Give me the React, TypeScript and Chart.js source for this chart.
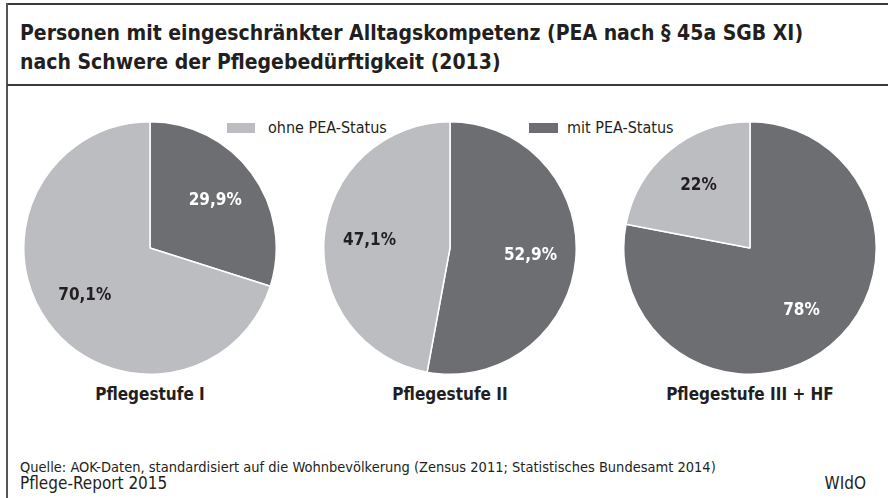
import React, { useEffect, useRef } from "react";
import { Chart, registerables } from "chart.js";

Chart.register(...registerables);

const seriesNames = ["mit PEA-Status", "ohne PEA-Status"];
const categories = ["Pflegestufe I", "Pflegestufe II", "Pflegestufe III + HF"];
const mitPEA = [29.9, 52.9, 78];
const ohnePEA = [70.1, 47.1, 22];
const valueLabels = [
  ["29,9%", "70,1%"],
  ["52,9%", "47,1%"],
  ["78%", "22%"],
];

const DARK = "#6d6e71";
const LIGHT = "#bcbdc0";
const TEXT = "#231f20";
const FONT = "'Liberation Sans Narrow', 'DejaVu Sans Condensed', 'Roboto', sans-serif";

const labelPlugin = {
  id: "sliceLabels",
  afterDatasetsDraw(chart: any, _args: any, opts: any) {
    const ctx = chart.ctx;
    const meta = chart.getDatasetMeta(0);
    meta.data.forEach((arc: any, i: number) => {
      const p = arc.getProps(["x", "y", "startAngle", "endAngle", "outerRadius"], true);
      const mid = (p.startAngle + p.endAngle) / 2;
      const r = p.outerRadius * opts.frac;
      const x = p.x + Math.cos(mid) * r;
      const y = p.y + Math.sin(mid) * r;
      ctx.save();
      ctx.font = `bold 17px ${FONT}`;
      ctx.fillStyle = i === 0 ? "#ffffff" : TEXT;
      ctx.textAlign = "center";
      ctx.textBaseline = "middle";
      ctx.fillText(opts.labels[i], x, y);
      ctx.restore();
    });
  },
};

function PieChart({ idx }: { idx: number }) {
  const ref = useRef<HTMLCanvasElement>(null);
  useEffect(() => {
    const chart = new Chart(ref.current!, {
      type: "pie",
      data: {
        labels: seriesNames,
        datasets: [
          {
            data: [mitPEA[idx], ohnePEA[idx]],
            backgroundColor: [DARK, LIGHT],
            borderColor: "#ffffff",
            borderWidth: 1.5,
          },
        ],
      },
      options: {
        animation: false,
        responsive: false,
        maintainAspectRatio: false,
        layout: { padding: 0 },
        plugins: {
          legend: { display: false },
          tooltip: { enabled: false },
          sliceLabels: { labels: valueLabels[idx], frac: 0.64 },
        } as any,
      },
      plugins: [labelPlugin],
    });
    return () => chart.destroy();
  }, [idx]);
  return <canvas ref={ref} width={254} height={254} style={{ width: 254, height: 254, display: "block" }} />;
}

export default function App() {
  const centers = [150, 450, 750];
  return (
    <div
      style={{
        position: "absolute",
        left: 0,
        top: 0,
        width: 888,
        height: 498,
        background: "#fff",
        overflow: "hidden",
        fontFamily: FONT,
        color: TEXT,
      }}
    >
      {/* borders */}
      <div style={{ position: "absolute", left: 7, top: 3, width: 881, height: 2, background: "#3a3a3a" }} />
      <div style={{ position: "absolute", left: 6, top: 3, width: 2, height: 495, background: "#555" }} />
      <div style={{ position: "absolute", left: 7, top: 84, width: 881, height: 2, background: "#3a3a3a" }} />

      {/* title */}
      <div
        style={{
          position: "absolute",
          left: 20,
          top: 19,
          fontWeight: "bold",
          fontSize: 21,
          lineHeight: "29px",
          whiteSpace: "nowrap",
        }}
      >
        Personen mit eingeschränkter Alltagskompetenz (PEA nach § 45a SGB XI)
        <br />
        nach Schwere der Pflegebedürftigkeit (2013)
      </div>

      {/* legend */}
      <div style={{ position: "absolute", left: 227, top: 123, width: 28, height: 10, background: LIGHT }} />
      <div style={{ position: "absolute", left: 268, top: 118, fontSize: 16, lineHeight: "20px", whiteSpace: "nowrap" }}>
        {seriesNames[1]}
      </div>
      <div style={{ position: "absolute", left: 529, top: 123, width: 29, height: 10, background: DARK }} />
      <div style={{ position: "absolute", left: 567, top: 118, fontSize: 16, lineHeight: "20px", whiteSpace: "nowrap" }}>
        {seriesNames[0]}
      </div>

      {/* pies */}
      {centers.map((cx, i) => (
        <div key={i} style={{ position: "absolute", left: cx - 127, top: 248 - 127 }}>
          <PieChart idx={i} />
        </div>
      ))}

      {/* category labels */}
      {centers.map((cx, i) => (
        <div
          key={"c" + i}
          style={{
            position: "absolute",
            left: cx - 120,
            width: 240,
            top: 384,
            textAlign: "center",
            fontWeight: "bold",
            fontSize: 17,
            lineHeight: "20px",
          }}
        >
          {categories[i]}
        </div>
      ))}

      {/* footer */}
      <div style={{ position: "absolute", left: 20, top: 458, fontSize: 14.5, lineHeight: "18px", whiteSpace: "nowrap" }}>
        Quelle: AOK-Daten, standardisiert auf die Wohnbevölkerung (Zensus 2011; Statistisches Bundesamt 2014)
      </div>
      <div style={{ position: "absolute", left: 20, top: 473, fontSize: 17, lineHeight: "21px", whiteSpace: "nowrap" }}>
        Pflege-Report 2015
      </div>
      <div style={{ position: "absolute", right: 22, top: 473, fontSize: 17, lineHeight: "21px", whiteSpace: "nowrap" }}>
        WIdO
      </div>
    </div>
  );
}
